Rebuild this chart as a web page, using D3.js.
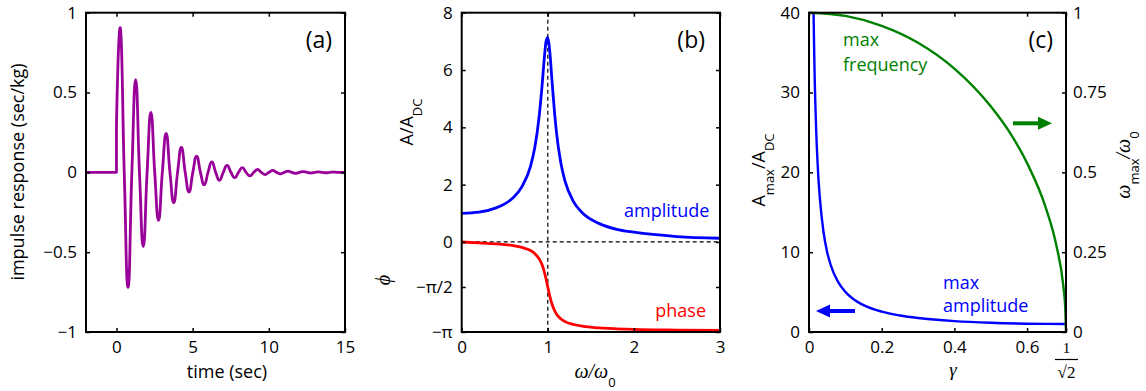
<!DOCTYPE html>
<html>
<head>
<meta charset="utf-8">
<script src="https://cdn.jsdelivr.net/npm/d3@7"></script>
<style>
  body { margin: 0; background: #fff; }
</style>
</head>
<body>
<div id="chart"></div>
<script>
  // (a) impulse response: step at t=0, then peaks / zero crossings / troughs
  const impulseTime = [-2, 0, 0,
    0.26, 0.51, 0.76, 1.01, 1.26, 1.51, 1.76, 2.01, 2.26, 2.51, 2.76, 3.01,
    3.26, 3.51, 3.76, 4.01, 4.26, 4.51, 4.76, 5.01, 5.26, 5.51, 5.76, 6.01,
    6.26, 6.51, 6.76, 7.01, 7.26, 7.51, 7.76, 8.01, 8.26, 8.51, 8.76, 9.01,
    9.26, 9.51, 9.76, 10.01, 10.26, 10.51, 10.76, 11.01, 11.26, 11.51, 11.76, 12.01,
    12.26, 12.51, 12.76, 13.01, 13.26, 13.51, 13.76, 14.01, 14.26, 14.51, 15];
  const impulseValue = [0, 0, 0.30,
    0.90, 0, -0.72, 0, 0.58, 0, -0.465, 0, 0.376, 0, -0.30, 0,
    0.244, 0, -0.19, 0, 0.156, 0, -0.123, 0, 0.102, 0, -0.078, 0,
    0.066, 0, -0.05, 0, 0.044, 0, -0.034, 0, 0.029, 0, -0.022, 0,
    0.018, 0, -0.014, 0, 0.012, 0, -0.009, 0, 0.0075, 0, -0.006, 0,
    0.005, 0, -0.004, 0, 0.003, 0, -0.0025, 0, 0.002, 0, 0];

  // (b) frequency response
  const omega = [0, 0.2, 0.4, 0.5, 0.6, 0.7, 0.8, 0.85, 0.9, 0.93, 0.96, 0.98, 1.0,
    1.02, 1.05, 1.08, 1.1, 1.15, 1.2, 1.3, 1.4, 1.6, 1.8, 2.0, 2.5, 3.0];
  const amplitude = [1, 1.04, 1.19, 1.33, 1.55, 1.93, 2.65, 3.31, 4.39, 5.33, 6.43, 7.0, 7.14,
    6.74, 5.58, 4.45, 3.84, 2.78, 2.12, 1.40, 1.02, 0.64, 0.44, 0.34, 0.19, 0.13];
  const phase = [0, -0.03, -0.07, -0.09, -0.13, -0.19, -0.30, -0.41, -0.59, -0.77, -1.04, -1.29, -1.57,
    -1.85, -2.18, -2.40, -2.51, -2.68, -2.78, -2.88, -2.94, -3.00, -3.03, -3.05, -3.075, -3.09];

  // (c) resonance peak vs damping
  const gammaAmp = [0.0125, 0.015, 0.02, 0.025, 0.03, 0.04, 0.05, 0.06, 0.08, 0.1, 0.12, 0.15,
    0.2, 0.25, 0.3, 0.4, 0.5, 0.6, 0.7071];
  const maxAmplitude = [40, 33.3, 25.0, 20.0, 16.7, 12.5, 10.0, 8.35, 6.27, 5.03, 4.20, 3.37,
    2.55, 2.07, 1.75, 1.36, 1.15, 1.04, 1.0];
  const gammaFreq = [0, 0.1, 0.2, 0.3, 0.4, 0.5, 0.55, 0.6, 0.65, 0.68, 0.7, 0.705, 0.7071];
  const maxFrequency = [1, 0.99, 0.959, 0.906, 0.825, 0.707, 0.629, 0.529, 0.394, 0.274, 0.141, 0.077, 0];

  const ticksA = { x: [0, 5, 10, 15], y: [-1, -0.5, 0, 0.5, 1] };
  const ticksB = { x: [0, 1, 2, 3], y: [-Math.PI, -Math.PI / 2, 0, 2, 4, 6, 8] };
  const ticksC = { x: [0, 0.2, 0.4, 0.6, Math.SQRT1_2], yl: [0, 10, 20, 30, 40], yr: [0, 0.25, 0.5, 0.75, 1] };

  const FONT = "'Open Sans', sans-serif";
  const SERIF = "'Liberation Serif', 'DejaVu Serif', serif";
  const plotTop = 12.7, plotBottom = 332;

  const svg = d3.select("#chart").append("svg")
    .attr("width", 1146).attr("height", 391)
    .attr("font-family", FONT);

  const minus = d => (d < 0 ? "\u2212" : "") + Math.abs(d);

  const addAxis = (gen, scale, vals, at, fmt, pad) => {
    const g = svg.append("g")
      .attr("transform", at)
      .call(gen(scale).tickValues(vals).tickSize(-4).tickPadding(pad || 9).tickFormat(fmt || (() => "")));
    g.attr("font-family", FONT).attr("font-size", 17);
    g.select(".domain").remove();
    g.selectAll(".tick line").attr("stroke", "#000").attr("stroke-width", 1.5);
    g.selectAll(".tick text").attr("fill", "#000");
    return g;
  };

  const frame = (x0, x1) => svg.append("rect")
    .attr("x", x0).attr("y", plotTop).attr("width", x1 - x0).attr("height", plotBottom - plotTop)
    .attr("fill", "none").attr("stroke", "#000").attr("stroke-width", 2);

  const label = (x, y, rot) => svg.append("text")
    .attr("transform", `translate(${x},${y})` + (rot ? ` rotate(${rot})` : ""))
    .attr("text-anchor", "middle").attr("font-size", 18).attr("fill", "#000");

  const sub = (t, s, fam) => t.append("tspan").attr("baseline-shift", "sub").attr("font-size", 13)
    .attr("font-family", fam || FONT).text(s);

  // ---------- (a) ----------
  const xa = d3.scaleLinear([-2, 15], [86, 345]);
  const ya = d3.scaleLinear([-1, 1], [plotBottom, plotTop]);
  const impulse = d3.zip(impulseTime, impulseValue);

  // flat lead-in and the jump at t = 0, then the ringing
  const lineA = d3.line().x(d => xa(d[0])).y(d => ya(d[1]));
  const pathA = lineA.curve(d3.curveLinear)(impulse.slice(0, 3)) +
    lineA.curve(d3.curveCardinal.tension(-0.5))(impulse.slice(2)).replace(/^M/, "L");
  svg.append("path")
    .attr("fill", "none").attr("stroke", "#990099").attr("stroke-width", 2.8)
    .attr("stroke-linejoin", "round")
    .attr("d", pathA);

  addAxis(d3.axisBottom, xa, ticksA.x, `translate(0,${plotBottom})`, d => String(d));
  addAxis(d3.axisTop, xa, ticksA.x, `translate(0,${plotTop})`);
  addAxis(d3.axisLeft, ya, ticksA.y, `translate(86,0)`, minus);
  addAxis(d3.axisRight, ya, ticksA.y, `translate(345,0)`);
  frame(86, 345);

  label(24, 172, -90).text("impulse response (sec/kg)");
  label(227, 378).text("time (sec)");
  svg.append("text").attr("x", 332).attr("y", 48).attr("text-anchor", "end")
    .attr("font-size", 23).text("(a)");

  // ---------- (b) ----------
  const xb = d3.scaleLinear([0, 3], [461.7, 720]);
  const yb = d3.scaleLinear([-Math.PI, 8], [plotBottom, plotTop]);

  svg.append("line").attr("x1", xb(1)).attr("x2", xb(1)).attr("y1", plotTop).attr("y2", plotBottom)
    .attr("stroke", "#000").attr("stroke-width", 1.2).attr("stroke-dasharray", "4,3");
  svg.append("line").attr("x1", xb(0)).attr("x2", xb(3)).attr("y1", yb(0)).attr("y2", yb(0))
    .attr("stroke", "#000").attr("stroke-width", 1.2).attr("stroke-dasharray", "4,3");

  const lineB = d3.line().x(d => xb(d[0])).y(d => yb(d[1])).curve(d3.curveMonotoneX);
  svg.append("path").datum(d3.zip(omega, amplitude))
    .attr("fill", "none").attr("stroke", "#0000ff").attr("stroke-width", 2.8).attr("d", lineB);
  svg.append("path").datum(d3.zip(omega, phase))
    .attr("fill", "none").attr("stroke", "#ff0000").attr("stroke-width", 2.8).attr("d", lineB);

  const fmtB = d => d === -Math.PI ? "\u2212\u03c0" : d === -Math.PI / 2 ? "\u2212\u03c0/2" : String(d);
  addAxis(d3.axisBottom, xb, ticksB.x, `translate(0,${plotBottom})`, d => String(d));
  addAxis(d3.axisTop, xb, ticksB.x, `translate(0,${plotTop})`);
  addAxis(d3.axisLeft, yb, ticksB.y, `translate(461.7,0)`, fmtB);
  addAxis(d3.axisRight, yb, ticksB.y, `translate(720,0)`);
  frame(461.7, 720);

  const lbB = label(413, 122, -90);
  lbB.append("tspan").text("A/A");
  sub(lbB, "DC");
  label(390, 280, -90).attr("font-family", SERIF).attr("font-style", "italic").attr("font-size", 20).text("\u03d5");
  const wb = label(595, 378).attr("font-family", SERIF).attr("font-style", "italic").attr("font-size", 20);
  wb.append("tspan").text("\u03c9/\u03c9");
  sub(wb, "0").attr("font-style", "normal");

  svg.append("text").attr("x", 705).attr("y", 48).attr("text-anchor", "end")
    .attr("font-size", 23).text("(b)");
  svg.append("text").attr("x", 624).attr("y", 217).attr("font-size", 18).attr("fill", "#0000ff").text("amplitude");
  svg.append("text").attr("x", 706).attr("y", 317).attr("text-anchor", "end")
    .attr("font-size", 18).attr("fill", "#ff0000").text("phase");

  // ---------- (c) ----------
  const xc = d3.scaleLinear([0, Math.SQRT1_2], [809, 1066]);
  const ycl = d3.scaleLinear([0, 40], [plotBottom, plotTop]);
  const ycr = d3.scaleLinear([0, 1], [plotBottom, plotTop]);

  svg.append("path").datum(d3.zip(gammaAmp, maxAmplitude))
    .attr("fill", "none").attr("stroke", "#0000ff").attr("stroke-width", 2.4)
    .attr("d", d3.line().x(d => xc(d[0])).y(d => ycl(d[1])).curve(d3.curveMonotoneX));
  svg.append("path").datum(d3.zip(gammaFreq, maxFrequency))
    .attr("fill", "none").attr("stroke", "#008000").attr("stroke-width", 2.4)
    .attr("d", d3.line().x(d => xc(d[0])).y(d => ycr(d[1])).curve(d3.curveMonotoneX));

  addAxis(d3.axisBottom, xc, ticksC.x, `translate(0,${plotBottom})`, d => d > 0.7 ? "" : String(d));
  addAxis(d3.axisTop, xc, ticksC.x, `translate(0,${plotTop})`);
  addAxis(d3.axisLeft, ycl, ticksC.yl, `translate(809,0)`, d => String(d));
  addAxis(d3.axisRight, ycr, ticksC.yr, `translate(1066,0)`, d => String(d), 7);
  frame(809, 1066);

  // 1/sqrt(2) tick label
  svg.append("text").attr("x", 1066.5).attr("y", 353).attr("text-anchor", "middle")
    .attr("font-family", SERIF).attr("font-size", 15).text("1");
  svg.append("line").attr("x1", 1055).attr("x2", 1078).attr("y1", 359.5).attr("y2", 359.5)
    .attr("stroke", "#000").attr("stroke-width", 1.2);
  svg.append("text").attr("x", 1066.5).attr("y", 378).attr("text-anchor", "middle")
    .attr("font-family", SERIF).attr("font-size", 17).text("\u221a2");

  const lbC = label(765, 170, -90);
  lbC.append("tspan").text("A");
  sub(lbC, "max");
  lbC.append("tspan").attr("baseline-shift", "0").text("/A");
  sub(lbC, "DC");

  const lbR = label(1130, 165, -90).attr("font-family", SERIF).attr("font-style", "italic").attr("font-size", 20);
  lbR.append("tspan").text("\u03c9");
  sub(lbR, "max").attr("font-style", "normal");
  lbR.append("tspan").attr("baseline-shift", "0").text("/\u03c9");
  sub(lbR, "0").attr("font-style", "normal");

  label(953, 376).attr("font-family", SERIF).attr("font-style", "italic").attr("font-size", 19).text("\u03b3");

  svg.append("text").attr("x", 1053).attr("y", 48).attr("text-anchor", "end")
    .attr("font-size", 23).text("(c)");
  svg.append("text").attr("x", 843).attr("y", 46).attr("font-size", 18).attr("fill", "#008000").text("max");
  svg.append("text").attr("x", 843).attr("y", 71).attr("font-size", 18).attr("fill", "#008000").text("frequency");
  svg.append("text").attr("x", 943).attr("y", 289).attr("font-size", 18).attr("fill", "#0000ff").text("max");
  svg.append("text").attr("x", 943).attr("y", 312).attr("font-size", 18).attr("fill", "#0000ff").text("amplitude");

  // arrows
  const arrow = (x0, x1, y, color) => {
    const dir = Math.sign(x1 - x0);
    svg.append("line").attr("x1", x0).attr("x2", x1 - dir * 10).attr("y1", y).attr("y2", y)
      .attr("stroke", color).attr("stroke-width", 4);
    svg.append("path")
      .attr("d", `M${x1},${y} L${x1 - dir * 14},${y - 6.5} L${x1 - dir * 14},${y + 6.5} Z`)
      .attr("fill", color);
  };
  arrow(1013, 1052, 123.3, "#008000");
  arrow(855, 816, 311, "#0000ff");
</script>
</body>
</html>
